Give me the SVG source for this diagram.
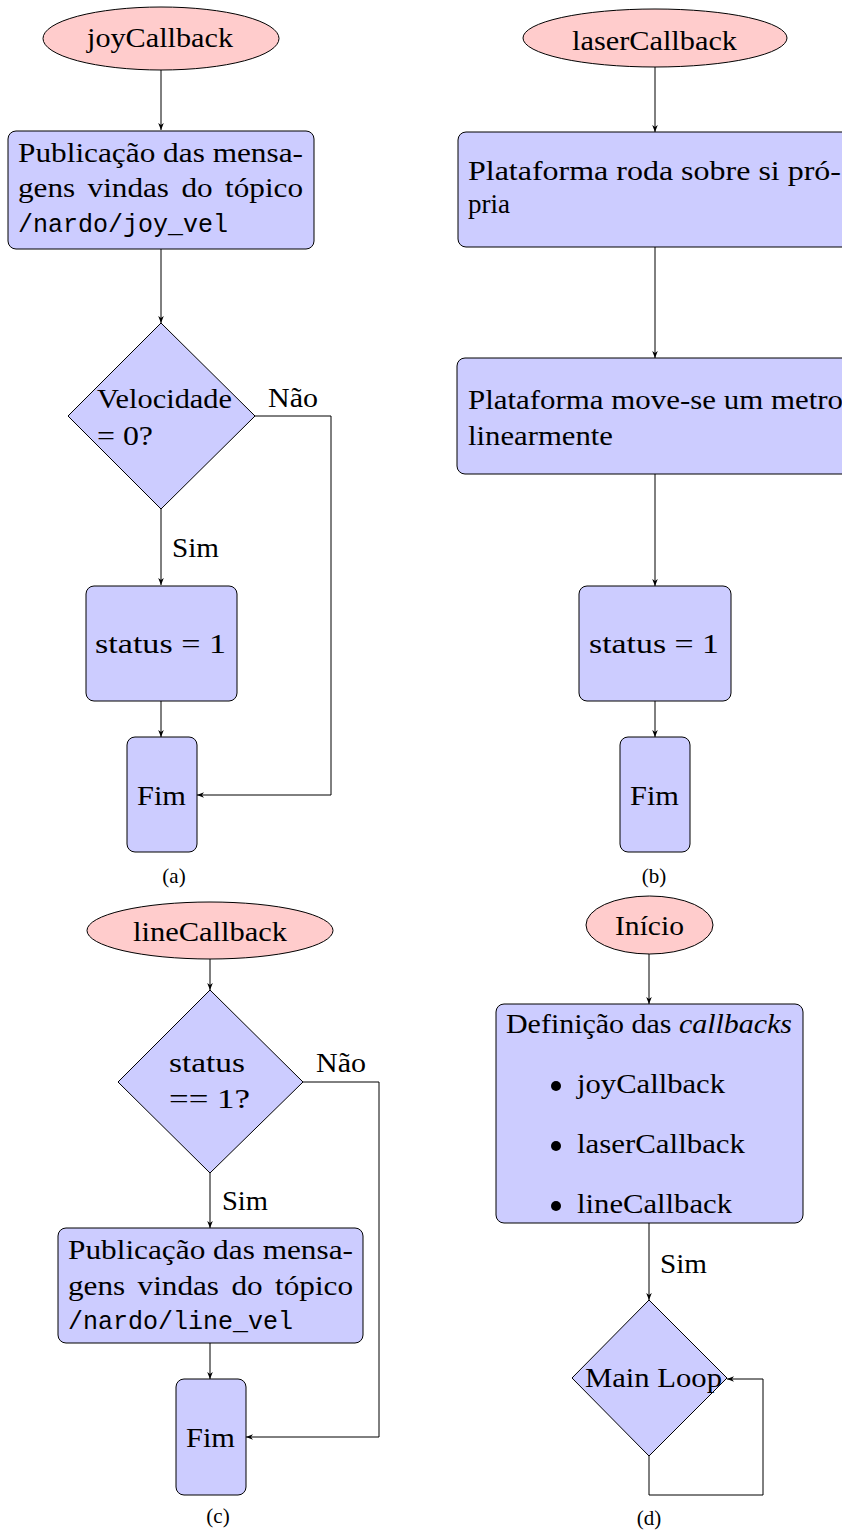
<svg xmlns="http://www.w3.org/2000/svg" width="842" height="1533" viewBox="0 0 842 1533">
<style>
.t{font-family:"Liberation Serif",serif;font-size:27px;fill:#000}
.m{font-family:"Liberation Mono",monospace;font-size:25px;fill:#000}
.cap{font-family:"Liberation Serif",serif;font-size:21px;fill:#000;text-anchor:middle}
.box{fill:#CCCCFF;stroke:#000;stroke-width:1}
.ell{fill:#FFCCCC;stroke:#000;stroke-width:1}
.c{fill:none;stroke:#000;stroke-width:1}
</style>
<defs>
<marker id="arr" viewBox="0 0 10 8" refX="10" refY="4" markerWidth="7" markerHeight="6" orient="auto" markerUnits="userSpaceOnUse">
<path d="M0,0 L10,4 L0,8 L3,4 z" fill="#000"/>
</marker>
</defs>
<rect width="842" height="1533" fill="#fff"/>

<g id="connectors">
<!-- (a) -->
<path class="c" d="M161,70 V130" marker-end="url(#arr)"/>
<path class="c" d="M161,249 V323" marker-end="url(#arr)"/>
<path class="c" d="M161,509 V585" marker-end="url(#arr)"/>
<path class="c" d="M161,701 V737" marker-end="url(#arr)"/>
<path class="c" d="M255,416 H331 V795 H197" marker-end="url(#arr)"/>
<!-- (b) -->
<path class="c" d="M655,67 V132" marker-end="url(#arr)"/>
<path class="c" d="M655,247 V358" marker-end="url(#arr)"/>
<path class="c" d="M655,474 V586" marker-end="url(#arr)"/>
<path class="c" d="M655,701 V737" marker-end="url(#arr)"/>
<!-- (c) -->
<path class="c" d="M210,959 V990" marker-end="url(#arr)"/>
<path class="c" d="M210,1173 V1228" marker-end="url(#arr)"/>
<path class="c" d="M210,1343 V1379" marker-end="url(#arr)"/>
<path class="c" d="M303,1082 H379 V1437 H246" marker-end="url(#arr)"/>
<!-- (d) -->
<path class="c" d="M649,954 V1004" marker-end="url(#arr)"/>
<path class="c" d="M649,1223 V1300" marker-end="url(#arr)"/>
<path class="c" d="M649,1456 V1495 H763 V1379 H727" marker-end="url(#arr)"/>
</g>

<g id="labels">
<text class="t" x="268" y="407" textLength="50" lengthAdjust="spacingAndGlyphs">Não</text>
<text class="t" x="172" y="557" textLength="47" lengthAdjust="spacingAndGlyphs">Sim</text>
<text class="t" x="316" y="1072" textLength="50" lengthAdjust="spacingAndGlyphs">Não</text>
<text class="t" x="222" y="1210" textLength="46" lengthAdjust="spacingAndGlyphs">Sim</text>
<text class="t" x="660" y="1273" textLength="47" lengthAdjust="spacingAndGlyphs">Sim</text>
<text class="cap" x="174" y="883">(a)</text>
<text class="cap" x="654" y="883">(b)</text>
<text class="cap" x="218" y="1523">(c)</text>
<text class="cap" x="649" y="1525">(d)</text>
</g>

<!-- (a) -->
<g id="a-start">
<ellipse class="ell" cx="161" cy="38.5" rx="118" ry="31.5"/>
<text class="t" x="87" y="47" textLength="146" lengthAdjust="spacingAndGlyphs">joyCallback</text>
</g>
<g id="a-publish">
<rect class="box" x="8" y="131" width="306" height="118" rx="8"/>
<text class="t" x="18" y="162" textLength="285" lengthAdjust="spacingAndGlyphs">Publicação das mensa-</text>
<text class="t" x="18" y="197" textLength="285" lengthAdjust="spacingAndGlyphs" word-spacing="4">gens vindas do tópico</text>
<text class="m" x="18" y="232">/nardo/joy_vel</text>
</g>
<g id="a-decision">
<polygon class="box" points="161,323 255,416 161,509 68,416"/>
<text class="t" x="97" y="408" textLength="135" lengthAdjust="spacingAndGlyphs">Velocidade</text>
<text class="t" x="97" y="445" textLength="56" lengthAdjust="spacingAndGlyphs">= 0?</text>
</g>
<g id="a-status">
<rect class="box" x="86" y="586" width="151" height="115" rx="8"/>
<text class="t" x="95" y="653" textLength="131" lengthAdjust="spacingAndGlyphs">status = 1</text>
</g>
<g id="a-end">
<rect class="box" x="127" y="737" width="70" height="115" rx="8"/>
<text class="t" x="137" y="805" textLength="49" lengthAdjust="spacingAndGlyphs">Fim</text>
</g>

<!-- (b) -->
<g id="b-start">
<ellipse class="ell" cx="655" cy="38" rx="132" ry="29"/>
<text class="t" x="572" y="50" textLength="165" lengthAdjust="spacingAndGlyphs">laserCallback</text>
</g>
<g id="b-rotate">
<rect class="box" x="458" y="132" width="394" height="115" rx="8"/>
<text class="t" x="468" y="180" textLength="373" lengthAdjust="spacingAndGlyphs">Plataforma roda sobre si pró-</text>
<text class="t" x="468" y="213" textLength="42" lengthAdjust="spacingAndGlyphs">pria</text>
</g>
<g id="b-move">
<rect class="box" x="457" y="358" width="395" height="116" rx="8"/>
<text class="t" x="468" y="409" textLength="375" lengthAdjust="spacingAndGlyphs">Plataforma move-se um metro</text>
<text class="t" x="468" y="445" textLength="145" lengthAdjust="spacingAndGlyphs">linearmente</text>
</g>
<g id="b-status">
<rect class="box" x="579" y="586" width="152" height="115" rx="8"/>
<text class="t" x="589" y="653" textLength="130" lengthAdjust="spacingAndGlyphs">status = 1</text>
</g>
<g id="b-end">
<rect class="box" x="620" y="737" width="70" height="115" rx="8"/>
<text class="t" x="630" y="805" textLength="49" lengthAdjust="spacingAndGlyphs">Fim</text>
</g>

<!-- (c) -->
<g id="c-start">
<ellipse class="ell" cx="210" cy="930.5" rx="123" ry="28.5"/>
<text class="t" x="133" y="941" textLength="154" lengthAdjust="spacingAndGlyphs">lineCallback</text>
</g>
<g id="c-decision">
<polygon class="box" points="210,990 303,1082 210,1173 118,1082"/>
<text class="t" x="169" y="1072" textLength="76" lengthAdjust="spacingAndGlyphs">status</text>
<text class="t" x="169" y="1108" textLength="81" lengthAdjust="spacingAndGlyphs">== 1?</text>
</g>
<g id="c-publish">
<rect class="box" x="58" y="1228" width="305" height="115" rx="8"/>
<text class="t" x="68" y="1259" textLength="285" lengthAdjust="spacingAndGlyphs">Publicação das mensa-</text>
<text class="t" x="68" y="1295" textLength="285" lengthAdjust="spacingAndGlyphs" word-spacing="4">gens vindas do tópico</text>
<text class="m" x="68" y="1329">/nardo/line_vel</text>
</g>
<g id="c-end">
<rect class="box" x="176" y="1379" width="70" height="116" rx="8"/>
<text class="t" x="186" y="1447" textLength="49" lengthAdjust="spacingAndGlyphs">Fim</text>
</g>

<!-- (d) -->
<g id="d-start">
<ellipse class="ell" cx="649.5" cy="925" rx="63.5" ry="29"/>
<text class="t" x="615" y="935" textLength="69" lengthAdjust="spacingAndGlyphs">Início</text>
</g>
<g id="d-define">
<rect class="box" x="496" y="1004" width="307" height="219" rx="8"/>
<text class="t" x="506" y="1033" textLength="286" lengthAdjust="spacingAndGlyphs">Definição das <tspan font-style="italic">callbacks</tspan></text>
<circle cx="556" cy="1086" r="5" fill="#000"/>
<circle cx="556" cy="1146" r="5" fill="#000"/>
<circle cx="556" cy="1206" r="5" fill="#000"/>
<text class="t" x="577" y="1093" textLength="148" lengthAdjust="spacingAndGlyphs">joyCallback</text>
<text class="t" x="577" y="1153" textLength="168" lengthAdjust="spacingAndGlyphs">laserCallback</text>
<text class="t" x="577" y="1213" textLength="155" lengthAdjust="spacingAndGlyphs">lineCallback</text>
</g>
<g id="d-loop">
<polygon class="box" points="649,1300 727,1378 649,1456 572,1378"/>
<text class="t" x="585" y="1387" textLength="137" lengthAdjust="spacingAndGlyphs">Main Loop</text>
</g>
</svg>
